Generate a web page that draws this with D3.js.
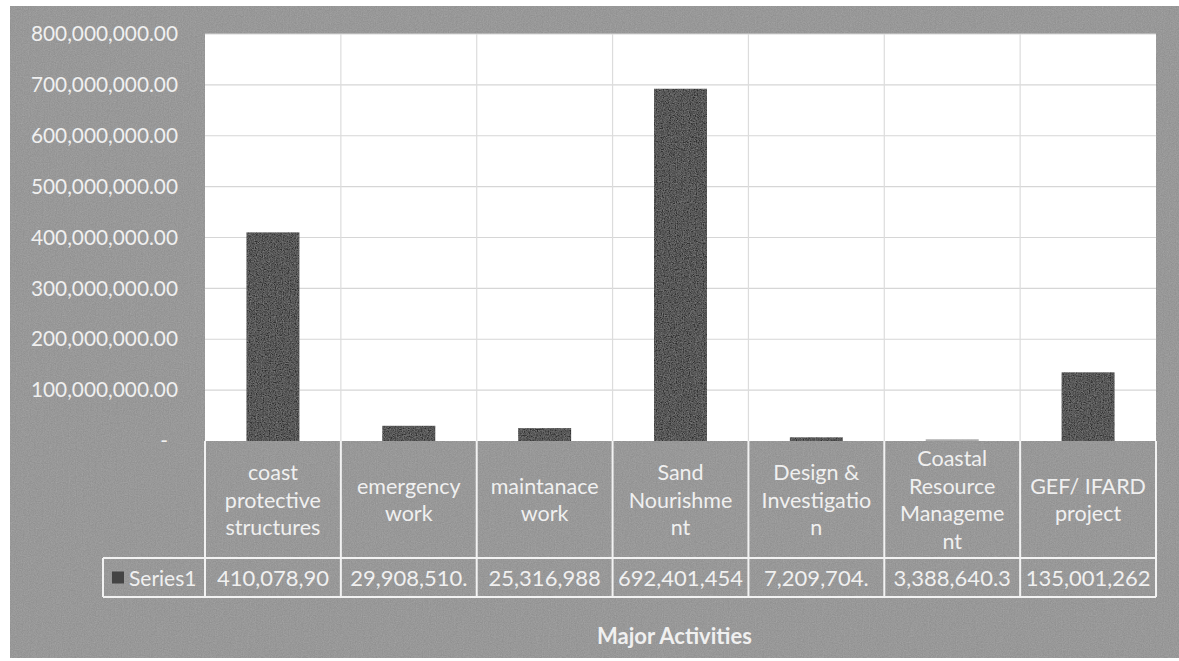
<!DOCTYPE html>
<html><head><meta charset="utf-8">
<script src="https://cdn.jsdelivr.net/npm/d3@7"></script>
<style>body{margin:0;background:#fff}svg{display:block}</style>
</head><body><svg id="c" width="1179" height="661"></svg>
<script>
const categories = ["coast protective structures","emergency work","maintanace work","Sand Nourishment","Design & Investigation","Coastal Resource Management","GEF/ IFARD project"];
const categoryLines = [["coast","protective","structures"],["emergency","work"],["maintanace","work"],["Sand","Nourishme","nt"],["Design &","Investigatio","n"],["Coastal","Resource","Manageme","nt"],["GEF/ IFARD","project"]];
const values = [410078900, 29908510, 25316988, 692401454, 7209704, 3388640.3, 135001262];
const valueLabels = ["410,078,90","29,908,510.","25,316,988","692,401,454","7,209,704.","3,388,640.3","135,001,262"];
const yTicks = [0,100000000,200000000,300000000,400000000,500000000,600000000,700000000,800000000];
const seriesName = "Series1";
const xTitle = "Major Activities";

const svg = d3.select("#c");
const W = 1179, H = 661;
const L = 205, R = 1156, T = 34, B = 441;
const headerBottom = 558, rowBottom = 597, legendLeft = 103;
const font = "Lato, 'Noto Sans', sans-serif";
const txt = "#f0f0f0";

// noise filter for scanned texture
const defs = svg.append("defs");
const f = defs.append("filter").attr("id","noise").attr("x",0).attr("y",0).attr("width","100%").attr("height","100%");
f.append("feTurbulence").attr("type","fractalNoise").attr("baseFrequency",0.85).attr("numOctaves",2).attr("seed",3).attr("result","t");
f.append("feColorMatrix").attr("in","t").attr("type","matrix")
 .attr("values","0 0 0 0 0.5  0 0 0 0 0.5  0 0 0 0 0.5  0.33 0.33 0.33 0 -0.35").attr("result","n");
f.append("feComposite").attr("in","n").attr("in2","SourceGraphic").attr("operator","atop");

svg.append("rect").attr("x",0).attr("y",0).attr("width",W).attr("height",H).attr("fill","#fff");
svg.append("rect").attr("x",10).attr("y",6).attr("width",W-10).attr("height",652).attr("fill","#919191").attr("filter","url(#noise)");

// plot area
svg.append("rect").attr("x",L).attr("y",T).attr("width",R-L).attr("height",B-T).attr("fill","#ffffff");

const x = d3.scaleBand().domain(categories).range([L,R]).paddingInner(0.61).paddingOuter(0.305);
const y = d3.scaleLinear().domain([0,800000000]).range([B,T]);
const step = x.step();
const colLeft = c => x(c) - step*0.305;

// horizontal gridlines
svg.append("g").selectAll("line").data(yTicks.slice(1)).join("line")
  .attr("x1",L).attr("x2",R).attr("y1",d=>y(d)).attr("y2",d=>y(d))
  .attr("stroke","#d6d6d6").attr("stroke-width",1.2);
// vertical gridlines in plot
svg.append("g").selectAll("line").data(categories.slice(1)).join("line")
  .attr("x1",d=>colLeft(d)).attr("x2",d=>colLeft(d)).attr("y1",T).attr("y2",B)
  .attr("stroke","#dcdcdc").attr("stroke-width",1.2);

// bars
svg.append("g").selectAll("rect").data(categories).join("rect")
  .attr("x",d=>x(d)).attr("width",x.bandwidth())
  .attr("y",(d,i)=>y(values[i])).attr("height",(d,i)=>B-y(values[i]))
  .attr("fill",(d,i)=> i===5 ? "#a8a8a8" : "#2e2e2e").attr("filter","url(#noise)");

// y axis
const yAxis = d3.axisLeft(y).tickValues(yTicks).tickSize(0).tickPadding(27)
  .tickFormat(d => d===0 ? "-" : d3.format(",.2f")(d));
const ya = svg.append("g").attr("transform",`translate(${L},0)`).call(yAxis);
ya.select(".domain").remove();
ya.selectAll("text").attr("fill",txt).style("font-family",font).style("font-size","20.8px")
  .attr("dx",d=> d===0 ? -10 : 0);

// table lines
const tl = svg.append("g").attr("stroke","#f2f2f2").attr("stroke-width",2);
const bounds = categories.map(colLeft).concat([R]);
tl.selectAll("line.v").data(bounds).join("line").attr("class","v")
  .attr("x1",d=>d).attr("x2",d=>d).attr("y1",B).attr("y2",rowBottom);
tl.append("line").attr("x1",legendLeft).attr("x2",legendLeft).attr("y1",headerBottom).attr("y2",rowBottom);
tl.append("line").attr("x1",legendLeft).attr("x2",R).attr("y1",headerBottom).attr("y2",headerBottom);
tl.append("line").attr("x1",legendLeft).attr("x2",R).attr("y1",rowBottom).attr("y2",rowBottom);

// category headers
const lh = 27.7, hMid = (B+headerBottom)/2;
const hg = svg.append("g").style("font-family",font).style("font-size","21.5px").attr("fill",txt).attr("text-anchor","middle");
categories.forEach((c,i)=>{
  const lines = categoryLines[i];
  const cx = x(c)+x.bandwidth()/2;
  lines.forEach((t,j)=>{
    hg.append("text").attr("x",cx).attr("y",hMid + (j-(lines.length-1)/2)*lh)
      .attr("dominant-baseline","central").text(t);
  });
});

// value row
const rMid = (headerBottom+rowBottom)/2;
svg.append("g").style("font-family",font).style("font-size","22px").attr("fill",txt).attr("text-anchor","middle")
  .selectAll("text").data(categories).join("text")
  .attr("x",d=>x(d)+x.bandwidth()/2).attr("y",rMid).attr("dominant-baseline","central")
  .text((d,i)=>valueLabels[i]);

// legend key
svg.append("rect").attr("x",112).attr("y",rMid-6).attr("width",12).attr("height",12).attr("fill","#444");
svg.append("text").attr("x",129).attr("y",rMid).attr("dominant-baseline","central")
  .style("font-family",font).style("font-size","21px").attr("fill",txt).text(seriesName);

// x title
svg.append("text").attr("x",(L+R)/2-6).attr("y",635).attr("text-anchor","middle").attr("dominant-baseline","central")
  .style("font-family",font).style("font-size","22px").style("font-weight","bold").attr("fill",txt).text(xTitle);
</script></body></html>
